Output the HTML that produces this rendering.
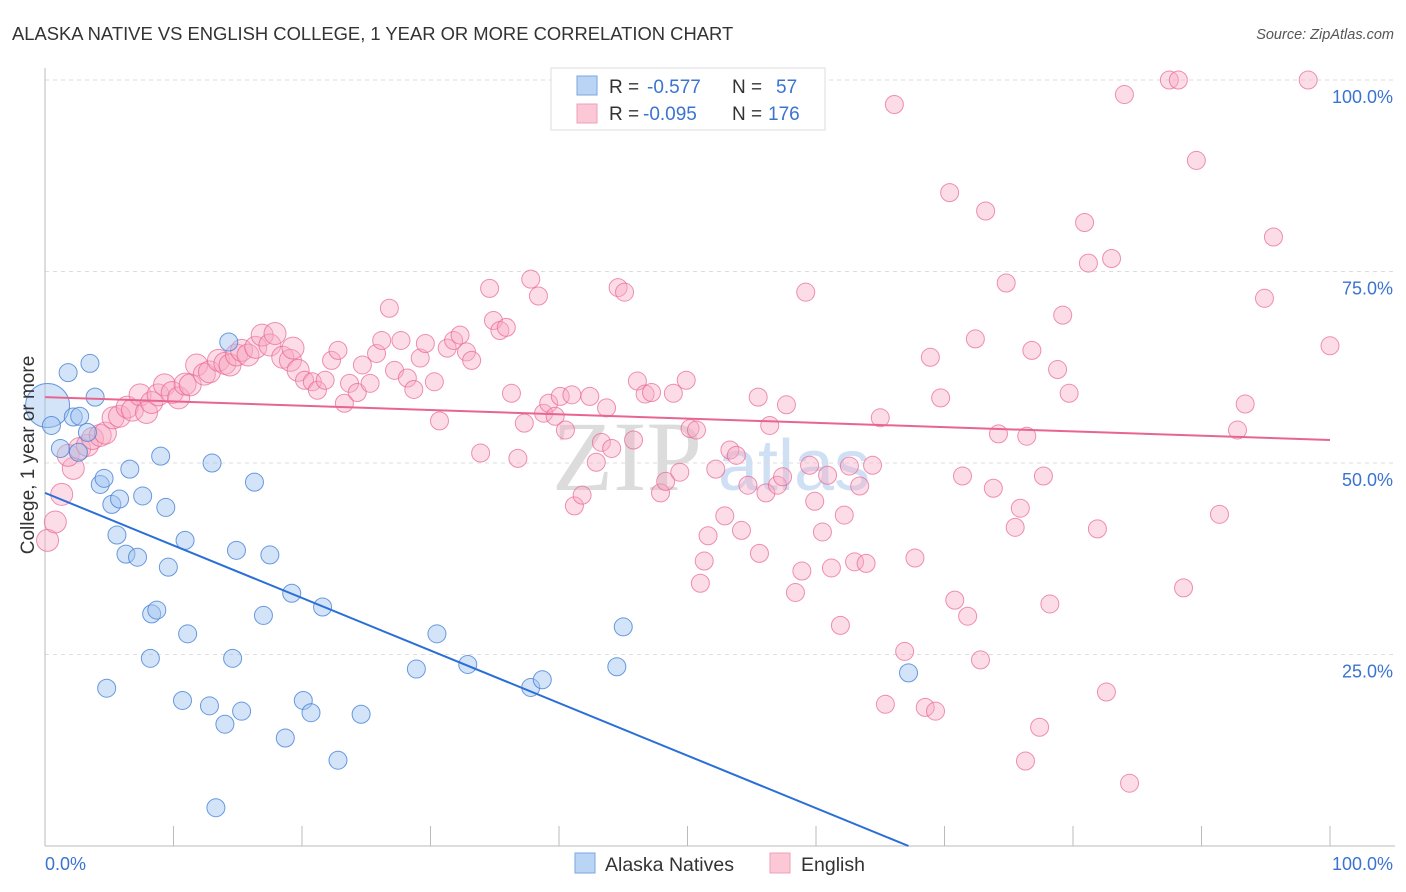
<!DOCTYPE html>
<html><head><meta charset="utf-8">
<style>
body{margin:0;background:#fff;font-family:"Liberation Sans",sans-serif;}
svg{display:block}
</style></head>
<body>
<svg id="chart" width="1406" height="892" viewBox="0 0 1406 892" xmlns="http://www.w3.org/2000/svg">
<text x="12" y="40" font-size="18.4" fill="#333">ALASKA NATIVE VS ENGLISH COLLEGE, 1 YEAR OR MORE CORRELATION CHART</text>
<text x="1394" y="39" font-size="14.5" fill="#555" font-style="italic" text-anchor="end">Source: ZipAtlas.com</text>
<g>
<text x="552" y="490" font-family="Liberation Serif,serif" font-size="100" fill="#dcdcdc">ZIP</text>
<text x="718" y="490" font-size="72" fill="#cfe0f5">atlas</text>
</g>
<g id="grid"></g>
<g id="axes"></g>
<g id="pinkPts"></g>
<g id="bluePts"></g>
<g id="trends"></g>
<text x="34" y="455" font-size="19" fill="#333" text-anchor="middle" transform="rotate(-90 34 455)">College, 1 year or more</text>
<g>
<rect x="551" y="68" width="274" height="62" fill="#fff" stroke="#ddd"/>
<rect x="577" y="76" width="20" height="19" fill="#b9d4f5" stroke="#7aa7e0"/>
<rect x="577" y="104" width="20" height="19" fill="#fcc8d6" stroke="#eda0b8"/>
<text x="609" y="93" font-size="19" fill="#333">R =</text>
<text x="647" y="93" font-size="19" fill="#3a73d0">-0.577</text>
<text x="732" y="93" font-size="19" fill="#333">N =</text>
<text x="776" y="93" font-size="19" fill="#3a73d0">57</text>
<text x="609" y="120" font-size="19" fill="#333">R =</text>
<text x="643" y="120" font-size="19" fill="#3a73d0">-0.095</text>
<text x="732" y="120" font-size="19" fill="#333">N =</text>
<text x="768" y="120" font-size="19" fill="#3a73d0">176</text>
</g>
<g>
<rect x="575" y="853" width="20" height="20" fill="#b9d4f5" stroke="#7aa7e0"/>
<text x="605" y="871" font-size="19.5" fill="#333">Alaska Natives</text>
<rect x="770" y="853" width="20" height="20" fill="#fcc8d6" stroke="#eda0b8"/>
<text x="801" y="871" font-size="19.5" fill="#333">English</text>
</g>
</svg>
<script>
const yTicks=[25,50,75,100];
const yTickLabels=["25.0%","50.0%","75.0%","100.0%"];
const xTickCount=10;
const blueX=[0.2,0.5,1.8,3.5,1.2,2.2,2.7,3.9,3.3,2.6,4.3,4.6,5.2,5.8,6.6,5.6,6.3,7.2,7.6,9.0,9.4,8.3,8.7,11.1,10.9,9.6,4.8,8.2,10.7,12.8,14.0,15.3,14.6,14.9,13.0,16.3,17.5,17.0,19.2,21.6,18.7,20.1,20.7,22.8,24.6,13.3,14.3,30.5,28.9,32.9,37.8,38.7,44.5,45.0,67.2];
const blueY=[57.5,54.9,61.8,63.0,51.9,56.0,56.1,58.6,54.0,51.4,47.2,48.0,44.6,45.3,49.2,40.6,38.1,37.7,45.7,50.9,44.2,30.3,30.8,27.7,39.9,36.4,20.6,24.5,19.0,18.3,15.9,17.6,24.5,38.6,50.0,47.5,38.0,30.1,33.0,31.2,14.1,19.0,17.4,11.2,17.2,5.0,65.8,27.7,23.1,23.7,20.7,21.7,23.4,28.6,22.6];
const pinkX=[0.2,0.8,1.3,2.2,1.8,2.7,3.3,3.7,4.3,4.7,5.3,5.8,6.4,6.8,7.4,7.9,8.3,8.8,9.3,9.9,10.4,10.9,11.3,11.8,12.4,12.8,13.5,14.0,14.4,14.9,15.3,15.8,16.4,16.9,17.5,17.9,18.5,19.1,19.3,19.7,20.2,20.8,21.2,21.8,22.3,22.8,23.3,23.7,24.3,24.7,25.3,25.8,26.2,26.8,27.2,27.7,28.2,28.7,29.2,29.6,30.3,30.7,31.3,31.8,32.3,32.8,33.2,33.9,34.6,34.9,35.4,35.9,36.3,36.8,37.3,37.8,38.4,38.8,39.2,39.7,40.1,40.5,41.0,41.2,41.8,42.4,42.9,43.3,43.7,44.1,44.6,45.1,45.8,46.1,46.7,47.2,47.9,48.3,48.9,49.4,49.9,50.2,50.7,51.0,51.3,51.6,52.2,52.9,53.3,53.8,54.2,54.7,55.5,55.6,56.1,56.4,57.0,57.4,57.7,58.4,58.9,59.2,59.5,59.9,60.5,60.9,61.2,61.9,62.2,62.6,63.0,63.4,63.9,64.4,65.0,65.4,66.1,66.9,67.7,68.5,68.9,69.3,69.7,70.4,70.8,71.4,71.8,72.4,72.8,73.2,73.8,74.2,74.8,75.5,75.9,76.3,76.8,77.4,77.7,78.2,78.8,79.2,79.7,80.9,81.2,81.9,82.6,83.0,84.0,84.4,87.5,88.2,88.6,89.6,91.4,92.8,93.4,94.9,95.6,98.3,100,76.4];
const pinkY=[39.9,42.3,45.9,49.3,51.0,51.9,52.3,53.2,53.6,53.9,55.9,56.1,57.3,56.9,58.9,56.6,57.9,58.9,60.2,59.2,58.5,60.3,60.2,62.8,61.6,61.9,63.4,63.0,62.8,64.1,64.7,64.1,65.1,66.7,65.4,66.9,63.8,63.4,65.0,62.1,60.8,60.6,59.5,60.8,63.4,64.7,57.8,60.4,59.2,62.8,60.4,64.3,66.0,70.2,62.1,66.0,61.1,59.6,63.7,65.6,60.6,55.5,65.0,66.0,66.7,64.5,63.4,51.3,72.8,68.6,67.3,67.7,59.1,50.6,55.2,74.0,71.8,56.5,57.8,56.1,58.7,54.3,58.9,44.4,45.8,58.7,50.1,52.7,57.2,51.9,72.9,72.3,53.0,60.7,59.0,59.2,46.1,47.6,59.1,48.8,60.8,54.5,54.3,34.3,37.2,40.5,49.2,43.1,51.7,51.0,41.2,47.1,58.6,38.2,46.1,54.9,47.1,48.2,57.6,33.1,35.9,72.3,49.7,45.0,41.0,48.4,36.3,28.8,43.2,49.6,37.1,47.0,36.9,49.7,55.9,18.5,96.8,25.4,37.6,18.1,63.8,17.6,58.5,85.3,32.1,48.3,30.0,66.2,24.3,82.9,46.7,53.8,73.5,41.6,44.1,11.1,64.7,15.5,48.3,31.6,62.2,69.3,59.1,81.4,76.1,41.4,20.1,76.7,98.1,8.2,100,100,33.7,89.5,43.3,54.3,57.7,71.5,79.5,100,65.3,53.5];
const blueTrend=[46.1,-0.686];
const pinkTrend=[58.6,-0.056];

const NS="http://www.w3.org/2000/svg";
const X0=45,X1=1330,Y0=846,Y100=80;
function sx(v){return X0+(X1-X0)*v/100;}
function sy(v){return Y0-(Y0-Y100)*v/100;}
function mk(tag,attrs,parent){const e=document.createElementNS(NS,tag);for(const k in attrs)e.setAttribute(k,attrs[k]);parent.appendChild(e);return e;}
const grid=document.getElementById('grid'),axes=document.getElementById('axes');
yTicks.forEach((t,i)=>{
  const l=mk('line',{x1:X0,x2:1395,y1:sy(t),y2:sy(t),stroke:'#ddd','stroke-dasharray':'4 4'},grid);
  
  
  const tx=mk('text',{x:1393,y:sy(t)+23,'font-size':18,fill:'#3a73d0','text-anchor':'end'},axes);
  tx.textContent=yTickLabels[i];
  
  
});
const yl=mk('line',{x1:X0,x2:X0,y1:68,y2:Y0,stroke:'#bbb'},axes);


const xl=mk('line',{x1:X0,x2:1395,y1:Y0,y2:Y0,stroke:'#bbb'},axes);


for(let i=1;i<=xTickCount;i++){
  const t=mk('line',{x1:sx(i*10),x2:sx(i*10),y1:826,y2:Y0,stroke:'#bbb'},axes);
  
  
}
const xa=mk('text',{x:45,y:870,'font-size':18,fill:'#3a73d0'},axes);xa.textContent='0.0%';


const xb=mk('text',{x:1393,y:870,'font-size':18,fill:'#3a73d0','text-anchor':'end'},axes);xb.textContent='100.0%';



const pg=document.getElementById('pinkPts');
pinkX.forEach((x,i)=>{
  const r=i<40?11:9;
  const c=mk('circle',{cx:sx(x),cy:sy(pinkY[i]),r:r,fill:'rgba(248,170,195,0.4)',stroke:'rgba(232,100,145,0.7)','stroke-width':1},pg);
  
  
});
const bg=document.getElementById('bluePts');
blueX.forEach((x,i)=>{
  const c=mk('circle',{cx:sx(x),cy:sy(blueY[i]),r:i===0?22:9,fill:'rgba(160,195,240,0.45)',stroke:'rgba(70,130,215,0.8)','stroke-width':1},bg);
  
  
});
const tg=document.getElementById('trends');
const bEnd=-blueTrend[0]/blueTrend[1];
const bl=mk('line',{x1:sx(0),y1:sy(blueTrend[0]),x2:sx(bEnd),y2:sy(0),stroke:'#2a6fd8','stroke-width':2},tg);


const pl=mk('line',{x1:sx(0),y1:sy(pinkTrend[0]),x2:sx(100),y2:sy(pinkTrend[0]+pinkTrend[1]*100),stroke:'#e8658f','stroke-width':2},tg);


</script>
</body></html>
